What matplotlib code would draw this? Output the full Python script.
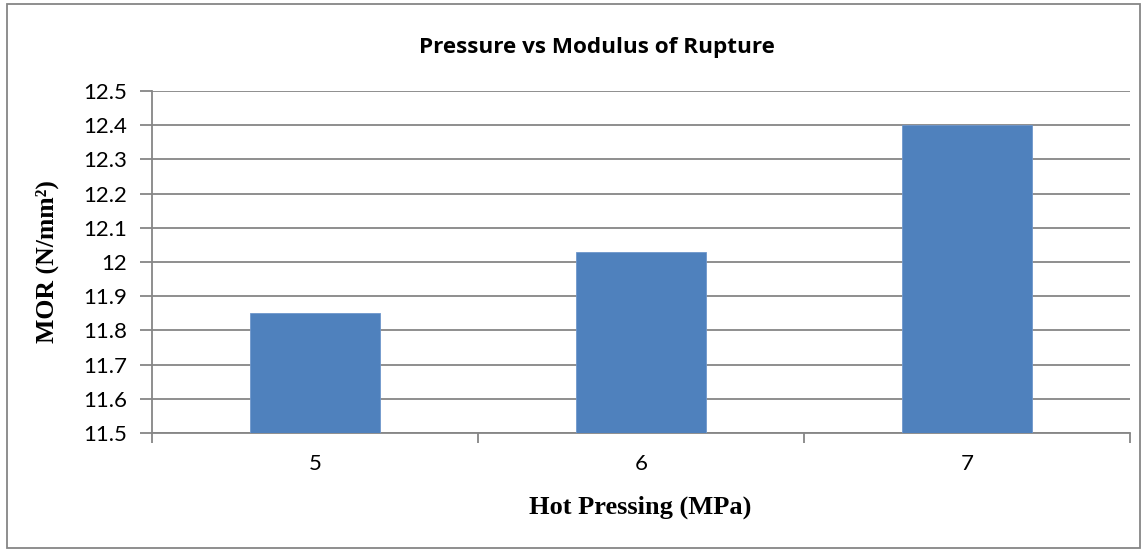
import matplotlib.pyplot as plt
from matplotlib.patches import Rectangle

# data
pressures = ['5', '6', '7']
mor = [11.85, 12.03, 12.40]
y_ticks = [11.5, 11.6, 11.7, 11.8, 11.9, 12.0, 12.1, 12.2, 12.3, 12.4, 12.5]
y_labels = ['11.5', '11.6', '11.7', '11.8', '11.9', '12', '12.1', '12.2', '12.3', '12.4', '12.5']

grey = '#868686'
W, H = 1145, 552

fig = plt.figure(figsize=(W / 100, H / 100), dpi=100)
ax = fig.add_axes([152/W, 1 - 433/H, (1130 - 152)/W, (433 - 91)/H])

# outer chart border
fig.patches.append(Rectangle((7/W, 4/H), 1133/W, 544/H, transform=fig.transFigure,
                             fill=False, edgecolor=grey, linewidth=1.3))

x = list(range(len(pressures)))
ax.bar(x, mor, width=0.4, color='#4f81bd', edgecolor='#6f97cc', linewidth=0.6, zorder=3)

ax.set_xlim(-0.5, len(pressures) - 0.5)
ax.set_ylim(11.5, 12.5)
ax.set_yticks(y_ticks)
ax.set_yticklabels(y_labels, fontsize=16, family='Lato')
ax.yaxis.grid(True, color=grey, linewidth=1.3, zorder=0)

# category boundaries as major ticks, labels on minor ticks
ax.set_xticks([i - 0.5 for i in range(len(pressures) + 1)])
ax.set_xticklabels([])
ax.set_xticks(x, minor=True)
ax.set_xticklabels(pressures, minor=True, fontsize=16, family='Lato')
ax.tick_params(axis='x', which='major', length=7, color=grey, width=1.3)
ax.tick_params(axis='x', which='minor', length=0, pad=15)
ax.tick_params(axis='y', length=9, color=grey, width=1.3, pad=9)

for s in ['top', 'right']:
    ax.spines[s].set_visible(False)
for s in ['left', 'bottom']:
    ax.spines[s].set_color(grey)
    ax.spines[s].set_linewidth(1.3)

fig.text(597/W, 1 - 47/H, 'Pressure vs Modulus of Rupture', fontsize=16.2, fontweight='bold',
         family='Open Sans', ha='center', va='center')
fig.text(640/W, 1 - 507/H, 'Hot Pressing (MPa)', fontsize=19, fontweight='bold',
         family='Liberation Serif', ha='center', va='center')
fig.text(47/W, 1 - 262/H, 'MOR (N/mm²)', fontsize=18.5, fontweight='bold',
         family='Liberation Serif', ha='center', va='center', rotation=90)

fig.savefig('out.png', dpi=100)
